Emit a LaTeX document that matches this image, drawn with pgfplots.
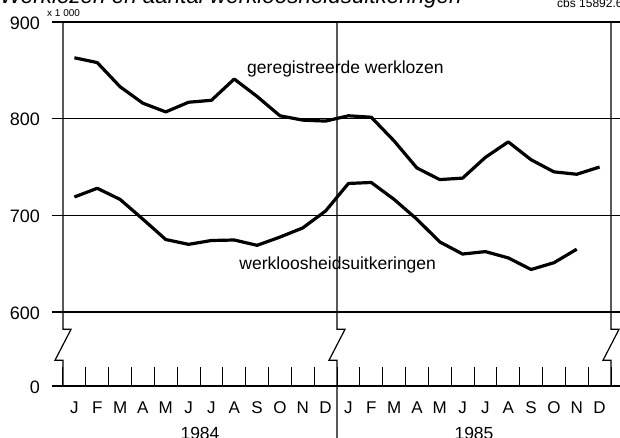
\documentclass[border=0pt]{standalone}
\usepackage{pgfplots}
\pgfplotsset{compat=1.18}
\usepackage{fontspec}
\setmainfont{Liberation Sans}
\begin{document}
\begin{tikzpicture}[x=1pt,y=1pt]
\begin{axis}[
  at={(63pt,52pt)}, anchor=south west,
  scale only axis, width=548pt, height=364pt,
  xmin=0, xmax=24, ymin=523.5, ymax=900,
  axis line style={draw=none},
  clip=false,
  xtick={0.5,1.5,...,23.5},
  xticklabels={J,F,M,A,M,J,J,A,S,O,N,D,J,F,M,A,M,J,J,A,S,O,N,D},
  major tick length=0pt,
  xticklabel style={anchor=base, inner sep=0pt, yshift=-28pt, font=\fontsize{17}{17}\selectfont},
  ytick={600,700,800,900},
  yticklabels={600,700,800,900},
  extra y ticks={523.5}, extra y tick labels={0},
  yticklabel style={anchor=east, inner sep=0pt, xshift=-23pt, yshift=-1pt, font=\fontsize{18}{18}\selectfont},
  /pgf/number format/assume math mode=true,
]
% horizontal lines
\draw[line width=1.2pt] ([xshift=-11pt]axis cs:0,900) -- ([xshift=9pt]axis cs:24,900);
\draw[line width=1.2pt] ([xshift=-11pt]axis cs:0,800) -- ([xshift=9pt]axis cs:24,800);
\draw[line width=1.2pt] ([xshift=-11pt]axis cs:0,700) -- ([xshift=9pt]axis cs:24,700);
\draw[line width=1.2pt] ([xshift=-11pt]axis cs:0,600) -- ([xshift=9pt]axis cs:24,600);
\draw[line width=1.2pt] ([xshift=-11pt]axis cs:0,523.5) -- ([xshift=9pt]axis cs:24,523.5);
% vertical lines with breaks
\draw[line width=1.2pt] (axis cs:0,900) -- (axis cs:0,582.1) -- ([xshift=8pt]axis cs:0,582.1) -- ([xshift=-8pt]axis cs:0,550.1) -- (axis cs:0,550.1) -- (axis cs:0,523.5);
\draw[line width=1.2pt] (axis cs:12,900) -- (axis cs:12,582.1) -- ([xshift=8pt]axis cs:12,582.1) -- ([xshift=-8pt]axis cs:12,550.1) -- (axis cs:12,550.1) -- (axis cs:12,465);
\draw[line width=1.2pt] (axis cs:24,900) -- (axis cs:24,582.1) -- ([xshift=8pt]axis cs:24,582.1) -- ([xshift=-8pt]axis cs:24,550.1) -- (axis cs:24,550.1) -- (axis cs:24,523.5);
% month ticks
\pgfplotsinvokeforeach{0,...,24}{\draw[line width=1pt] (axis cs:#1,523.5) -- (axis cs:#1,543.1);}
% data
\addplot[black, line width=3.2pt, line join=round] coordinates {
(0.5,863) (1.5,858) (2.5,833) (3.5,816) (4.5,807) (5.5,817) (6.5,819) (7.5,841)
(8.5,823) (9.5,803) (10.5,798.5) (11.5,797.5) (12.5,803) (13.5,801.5) (14.5,777)
(15.5,749) (16.5,737) (17.5,738.5) (18.5,760) (19.5,776) (20.5,757.5) (21.5,745)
(22.5,742.5) (23.5,750)};
\addplot[black, line width=3.2pt, line join=round] coordinates {
(0.5,719) (1.5,728) (2.5,716.5) (3.5,696) (4.5,675) (5.5,670) (6.5,674) (7.5,674.5)
(8.5,669) (9.5,677.5) (10.5,687) (11.5,704.5) (12.5,733) (13.5,734) (14.5,716.5)
(15.5,696) (16.5,672.5) (17.5,660) (18.5,662.5) (19.5,656) (20.5,644) (21.5,651)
(22.5,665)};
% labels
\node[anchor=base west, inner sep=0pt, font=\fontsize{17.5}{17.5}\selectfont] at (axis cs:8.06,846.5) {geregistreerde werklozen};
\node[anchor=base west, inner sep=0pt, font=\fontsize{17.5}{17.5}\selectfont] at (axis cs:7.72,644.2) {werkloosheidsuitkeringen};
\node[anchor=base, inner sep=0pt, font=\fontsize{17.5}{17.5}\selectfont] at (axis cs:6,468.4) {1984};
\node[anchor=base, inner sep=0pt, font=\fontsize{17.5}{17.5}\selectfont] at (axis cs:18,468.4) {1985};
\end{axis}
\node[anchor=base west, inner sep=0pt, font=\fontsize{22.4}{22.4}\selectfont\itshape] at (0,434) {Werklozen en aantal werkloosheidsuitkeringen};
\node[anchor=base west, inner sep=0pt, font=\fontsize{12}{12}\selectfont] at (557,430) {cbs 15892.6};
\node[anchor=base west, inner sep=0pt, font=\fontsize{10}{10}\selectfont] at (47,421.3) {x 1 000};
\pgfresetboundingbox
\useasboundingbox (0,0) rectangle (620,438);
\end{tikzpicture}
\end{document}
